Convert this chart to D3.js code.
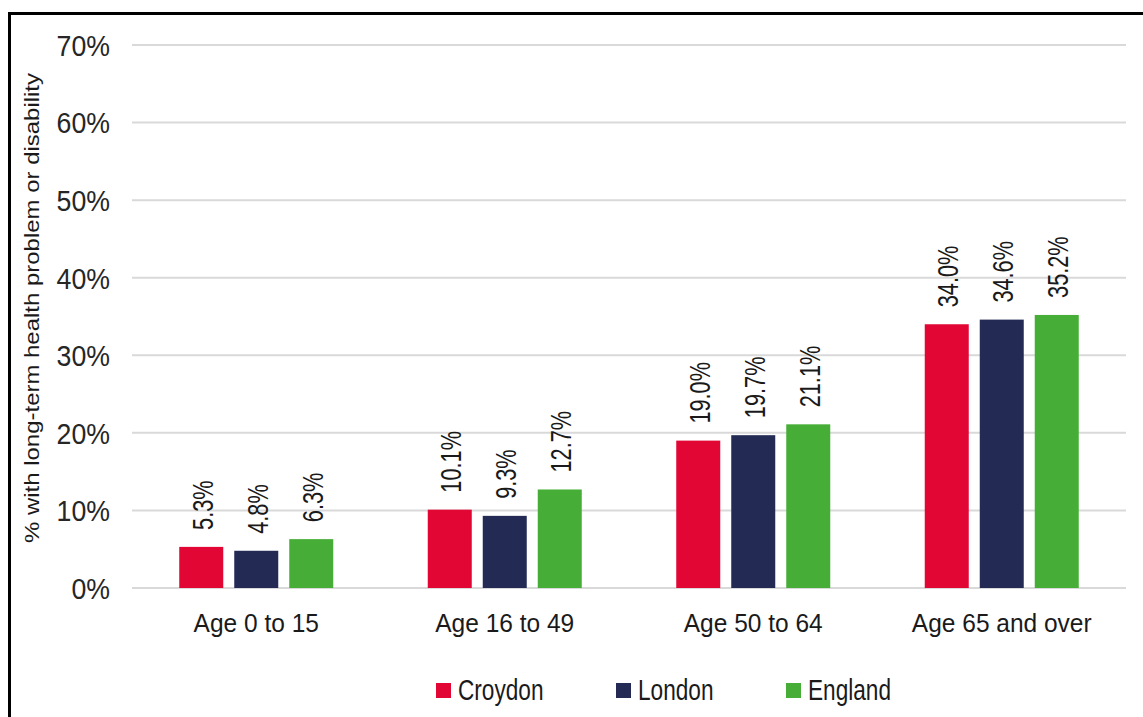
<!DOCTYPE html>
<html>
<head>
<meta charset="utf-8">
<script src="https://cdn.jsdelivr.net/npm/d3@7"></script>
<style>
  body { margin: 0; background: #fff; }
  svg { display: block; font-family: "Liberation Sans", Arial, sans-serif; }
</style>
</head>
<body>
<svg id="chart" width="1143" height="717"></svg>
<script>
// data
const ageGroups = ["Age 0 to 15", "Age 16 to 49", "Age 50 to 64", "Age 65 and over"]
const areas = ["Croydon", "London", "England"]
const croydon = [5.3, 10.1, 19.0, 34.0]
const london = [4.8, 9.3, 19.7, 34.6]
const england = [6.3, 12.7, 21.1, 35.2]
const yTicks = [0, 10, 20, 30, 40, 50, 60, 70]
const yTitle = "% with long-term health problem or disability"

const colours = { Croydon: "#e10634", London: "#232b55", England: "#46ae36" }
const seriesValues = { Croydon: croydon, London: london, England: england }

const svg = d3.select("#chart")

// frame (only top and left edges are inside the picture)
svg.append("rect")
  .attr("x", 9.5).attr("y", 13.5)
  .attr("width", 1200).attr("height", 800)
  .attr("fill", "none").attr("stroke", "#000").attr("stroke-width", 3)

const x = d3.scaleBand().domain(ageGroups).range([132, 1126]).padding(0)
const y = d3.scaleLinear().domain([0, 70]).range([588, 45])
const inner = d3.scaleBand().domain(areas).range([-77, 77]).paddingInner(0.2)

// gridlines
svg.append("g").selectAll("line").data(yTicks).join("line")
  .attr("x1", 132).attr("x2", 1126)
  .attr("y1", d => y(d)).attr("y2", d => y(d))
  .attr("stroke", "#d9d9d9").attr("stroke-width", 2)

// y tick labels
svg.append("g").selectAll("text").data(yTicks).join("text")
  .attr("transform", d => `translate(110,${y(d)}) scale(0.89,1)`)
  .attr("text-anchor", "end").attr("dy", "0.36em")
  .attr("font-size", 30).attr("fill", "#262626")
  .text(d => d + "%")

// y title
svg.append("text")
  .attr("transform", "translate(31,308) rotate(-90)")
  .attr("text-anchor", "middle").attr("dy", "0.36em")
  .attr("font-size", 21).attr("fill", "#1a1a1a")
  .attr("textLength", 470).attr("lengthAdjust", "spacingAndGlyphs")
  .text(yTitle)

// bars
const groups = svg.append("g").selectAll("g").data(ageGroups).join("g")
  .attr("transform", d => `translate(${x(d) + x.bandwidth() / 2},0)`)

groups.each(function(age, i) {
  const g = d3.select(this)
  areas.forEach(area => {
    const v = seriesValues[area][i]
    g.append("rect")
      .attr("x", inner(area)).attr("width", inner.bandwidth())
      .attr("y", y(v)).attr("height", y(0) - y(v))
      .attr("fill", colours[area])
    g.append("text")
      .attr("transform", `translate(${inner(area) + inner.bandwidth() / 2 + 1},${y(v) - 17}) rotate(-90) scale(0.75,1)`)
      .attr("dy", "0.36em")
      .attr("font-size", 29).attr("fill", "#1a1a1a")
      .text(v.toFixed(1) + "%")
  })
})

// category labels
svg.append("g").selectAll("text").data(ageGroups).join("text")
  .attr("transform", d => `translate(${x(d) + x.bandwidth() / 2},632) scale(0.98,1)`)
  .attr("text-anchor", "middle")
  .attr("font-size", 25).attr("fill", "#1a1a1a")
  .text(d => d)

// legend
const legendX = [436, 616, 786]
const legend = svg.append("g").selectAll("g").data(areas).join("g")
  .attr("transform", (d, i) => `translate(${legendX[i]},683)`)
legend.append("rect")
  .attr("width", 15).attr("height", 15)
  .attr("fill", d => colours[d])
legend.append("text")
  .attr("transform", "translate(22,17) scale(0.78,1)")
  .attr("font-size", 29).attr("fill", "#1a1a1a")
  .text(d => d)
</script>
</body>
</html>
